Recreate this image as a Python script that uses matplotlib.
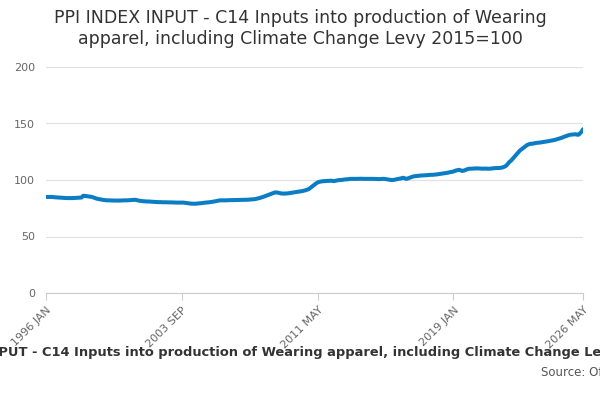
import numpy as np
import pandas as pd
import matplotlib
matplotlib.use("Agg")
import matplotlib.pyplot as plt

title = "PPI INDEX INPUT - C14 Inputs into production of Wearing\napparel, including Climate Change Levy 2015=100"
footer = "PPI INDEX INPUT - C14 Inputs into production of Wearing apparel, including Climate Change Levy 2015=100"

# monthly values, one row per year (Jan..Dec)
y1996 = [85,85,85,85,85,84.8,84.7,84.6,84.5,84.4,84.3,84.2]
y1997 = [84.2,84.1,84,84,84,84,84,84.1,84.2,84.3,84.4,84.5]
y1998 = [84.5,86,86,85.8,85.6,85.4,85.2,85,84.5,84,83.6,83.3]
y1999 = [83,82.8,82.5,82.3,82.1,82,82,82,81.9,81.9,81.8,81.8]
y2000 = [81.8,81.8,81.8,81.9,82,82,82,82,82.1,82.2,82.3,82.3]
y2001 = [82.5,82.3,82,81.7,81.5,81.3,81.2,81.1,81,81,80.9,80.8]
y2002 = [80.7,80.6,80.5,80.5,80.4,80.4,80.4,80.3,80.3,80.3,80.2,80.2]
y2003 = [80.2,80.2,80.1,80.1,80,80,80,80,80,80,79.8,79.6]
y2004 = [79.4,79.2,79.1,79,79,79,79.1,79.2,79.3,79.5,79.7,79.9]
y2005 = [80,80.1,80.2,80.4,80.6,80.8,81,81.3,81.6,81.8,82,82]
y2006 = [82,82,82,82.1,82.1,82.2,82.2,82.2,82.3,82.3,82.3,82.4]
y2007 = [82.4,82.5,82.5,82.5,82.5,82.6,82.7,82.8,82.9,83,83.2,83.5]
y2008 = [83.8,84.2,84.6,85,85.5,86,86.5,87,87.5,88,88.5,89]
y2009 = [89,88.8,88.5,88.2,88,88,88,88.1,88.2,88.4,88.6,88.8]
y2010 = [89,89.2,89.4,89.6,89.8,90,90.3,90.6,91,91.5,92,93]
y2011 = [94,95,96,97,97.8,98.3,98.6,98.8,99,99,99.2,99.2]
y2012 = [99.3,99.4,99.2,99,99.3,99.6,99.8,100,100,100.2,100.4,100.6]
y2013 = [100.6,100.8,101,101,101,101,101,101,101.1,101.1,101.1,101]
y2014 = [101,101,101,101,101,101,101,100.9,100.8,100.8,100.8,100.9]
y2015 = [101,101,100.8,100.5,100.3,100.1,100,100,100.2,100.5,100.8,101]
y2016 = [101.3,101.6,102,101.5,101,101.3,101.8,102.3,102.8,103.2,103.4,103.6]
y2017 = [103.7,103.8,104,104,104.1,104.2,104.3,104.4,104.5,104.6,104.6,104.7]
y2018 = [104.8,105,105.2,105.4,105.6,105.8,106,106.2,106.4,106.7,107,107.2]
y2019 = [107.5,108,108.5,108.8,109,108.5,108,108.3,108.8,109.3,109.8,110]
y2020 = [110,110.1,110.2,110.3,110.3,110.2,110.1,110,110,110.1,110.1,110]
y2021 = [110,110,110.2,110.4,110.5,110.6,110.6,110.6,110.8,111,111.5,112]
y2022 = [113,114.5,116,117,118.5,120,121.5,123,124.5,126,127,128]
y2023 = [129,130,131,131.5,132,132,132.2,132.5,132.8,133,133,133.2]
y2024 = [133.4,133.6,133.8,134,134.2,134.5,134.8,135,135.3,135.6,136,136.3]
y2025 = [136.7,137.2,137.7,138.2,138.7,139.2,139.6,140,140.2,140.3,140.4,140.5]
y2026 = [140,140.2,141.5,143,145]

values = (y1996 + y1997 + y1998 + y1999 + y2000 + y2001 + y2002 + y2003 + y2004 + y2005
          + y2006 + y2007 + y2008 + y2009 + y2010 + y2011 + y2012 + y2013 + y2014 + y2015
          + y2016 + y2017 + y2018 + y2019 + y2020 + y2021 + y2022 + y2023 + y2024 + y2025 + y2026)
dates = pd.date_range("1996-01-01", periods=len(values), freq="MS")

tick_dates = ["1996-01-01", "2003-09-01", "2011-05-01", "2019-01-01", "2026-05-01"]
tick_labels = ["1996 JAN", "2003 SEP", "2011 MAY", "2019 JAN", "2026 MAY"]

fig = plt.figure(figsize=(6, 4), dpi=100)
ax = fig.add_axes([0.077, 0.2675, 0.895, 0.565])
ax.plot(dates, values, color="#0a7dc5", lw=2.9, solid_capstyle="round")
ax.set_ylim(0, 200)
ax.set_yticks([0, 50, 100, 150, 200])
ax.set_xlim(dates[0], dates[-1])
ax.set_xticks(pd.to_datetime(tick_dates))
ax.set_xticklabels(tick_labels, rotation=45, ha="right", rotation_mode="anchor")
ax.grid(axis="y", color="#e0e0e0", lw=0.8)
ax.set_axisbelow(True)
for s in ["top", "right", "left"]:
    ax.spines[s].set_visible(False)
ax.spines["bottom"].set_color("#cccccc")
ax.tick_params(axis="y", length=0, labelsize=8, colors="#666666", pad=8)
ax.tick_params(axis="x", length=5, color="#cccccc", labelsize=8, labelcolor="#666666")

fig.text(0.5, 0.978, title, ha="center", va="top", fontsize=12.5, color="#333333",
         linespacing=1.25)
fig.text(0.5, 0.118, footer, ha="center", va="center", fontsize=9.4, fontweight="bold", color="#333333")
fig.text(0.902, 0.07, "Source: Office for National Statistics", ha="left", va="center", fontsize=8.5, color="#555555")

fig.savefig("out.png")
